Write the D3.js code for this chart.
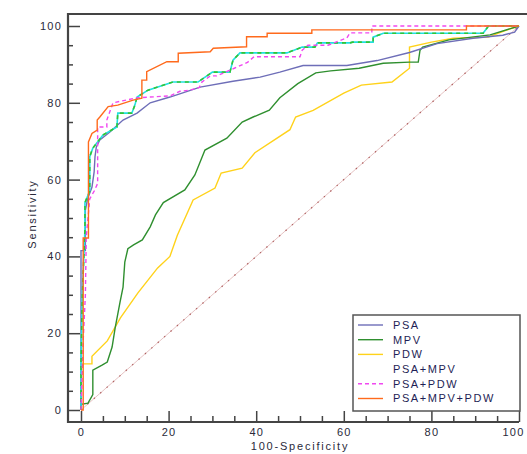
<!DOCTYPE html>
<html>
<head>
<meta charset="utf-8">
<script src="https://cdn.jsdelivr.net/npm/d3@7"></script>
<style>
  body { margin: 0; background: #fff; }
  svg { display: block; font-family: Arial, "Liberation Sans", sans-serif; }
  .tick text { font-size: 11px; letter-spacing: 1.2px; fill: #2a2a3a; }
  .tick line { stroke: #444; stroke-width: 1.5px; }
  .axis-title { font-size: 11px; letter-spacing: 1.8px; fill: #2a2a3a; }
  .legend text { font-size: 11px; letter-spacing: 1.6px; fill: #1e1e55; }
</style>
</head>
<body>
<div id="chart"></div>
<script>
// ROC curves, values as [100-specificity, sensitivity]
var psa = [[0,0],[0,41.5],[1,41.5],[1,52],[1.5,55],[2.5,58],[3,62],[3.2,66],[3.5,68.5],[4.3,70.3],[6.6,72.4],[9.6,75.5],[12.8,77.3],[15.8,80],[20.3,81.5],[27.2,84.1],[34.7,85.6],[40.9,86.7],[45.4,88],[50.7,89.7],[60.7,89.7],[67.6,91],[75,93.1],[81.3,95.4],[89.5,96.8],[96.3,97.6],[99,98.4],[100,100]];
var mpv = [[0,0],[0,1.5],[1.6,1.8],[2.7,4],[2.7,10.4],[4.8,11.7],[6,12.5],[7.1,16.4],[7.8,21.4],[8.9,28],[9.6,32],[10,38.5],[10.7,42],[12,43],[14,44.3],[15.8,47.7],[17,50.8],[18.8,54],[23.7,57.3],[26,61.2],[28.3,67.7],[33.3,70.8],[36.8,75],[39.3,76.3],[43,78.1],[45.4,81.3],[49.5,85],[53.6,87.8],[57,88.3],[63.5,89],[69,90.3],[75,90.6],[77,90.6],[77.4,93.7],[78,94.5],[84,96.4],[93.4,97.7],[100,100]];
var pdw = [[0,0],[0,12],[2.5,12],[2.5,14],[6,18],[9,24],[13,30.5],[17.5,37],[20.3,40],[22,45.5],[25.6,54.7],[30.6,57.8],[32,61.7],[36.8,63],[39.7,67],[47.7,73],[49,76.3],[53,78],[60,82.5],[64,84.6],[71,85.4],[75,89],[75,94.5],[80,95.8],[85,96.8],[93,97.1],[97.3,99],[100,100]];
var psaMpv = [[0,0],[0,12],[0.3,30],[0.9,47],[0.9,54],[2,57],[2,66],[2.7,68.2],[5,71.6],[8.2,73.7],[8.4,77.3],[11.6,77.3],[12.3,79.4],[12.8,81.5],[15.3,83.3],[21,85.4],[26.7,85.4],[30,88],[34,88],[34.7,91.1],[36.3,93],[47,93],[50.5,94.5],[53.4,94.5],[54,95.6],[61.4,95.6],[62,95.8],[66.7,95.8],[66.7,97.1],[69,98.1],[91.8,98.1],[92.7,99.5],[93,100],[100,100]];
var psaPdw = [[0,0],[0.5,18],[1,30],[1.2,45],[2,55],[3,57],[3.8,59],[3.8,73.7],[5.9,73.7],[5.9,75.5],[7.3,80],[12.8,81.3],[20.3,81.8],[22.6,83],[24.9,83.3],[27,84],[27.6,85.4],[29.5,87],[31,87],[35,89],[38,90.5],[39.5,92],[50,92],[50.5,93.7],[51.8,95],[56.4,95],[60.7,96.9],[61.4,98.2],[66.4,98.2],[66.4,100],[100,100]];
var psaMpvPdw = [[0,0],[0.5,0],[0.5,44.8],[1.7,44.8],[1.7,69.8],[2.5,72],[3.7,72.9],[3.7,75.5],[4.3,76.3],[6.2,79],[8.4,79.4],[11.9,80.7],[13.9,81.2],[13.9,85.9],[15,85.9],[15,88.1],[19.6,90.7],[22.2,90.7],[22.2,92.9],[29.5,93.3],[30.2,94.2],[37.8,94.6],[37.8,97.2],[42.5,97.2],[42.5,98.1],[52.7,98.1],[52.7,99],[88,99],[88,100],[100,100]];
var diagonal = [[0,0],[100,100]];

var seriesNames = ["PSA", "MPV", "PDW", "PSA+MPV", "PSA+PDW", "PSA+MPV+PDW"];
var majorTicks = [0, 20, 40, 60, 80, 100];
var minorTicks = [5, 10, 15, 25, 30, 35, 45, 50, 55, 65, 70, 75, 85, 90, 95];

var width = 527, height = 454;

var svg = d3.select("#chart").append("svg")
    .attr("width", width)
    .attr("height", height);

var x = d3.scaleLinear().domain([0, 100]).range([81, 519]);
var y = d3.scaleLinear().domain([0, 100]).range([410, 26]);

var frameLeft = 68, frameTop = 14, frameBottom = 422;

// axes: ticks point inward, labels outside
var yAxis = d3.axisLeft(y).tickValues(majorTicks).tickSize(-12).tickPadding(6);
var yAxisMinor = d3.axisLeft(y).tickValues(minorTicks).tickSize(-5).tickFormat("");
var xAxis = d3.axisBottom(x).tickValues(majorTicks).tickSize(-11).tickPadding(6);
var xAxisMinor = d3.axisBottom(x).tickValues(minorTicks).tickSize(-6).tickFormat("");

var yG = svg.append("g").attr("transform", "translate(" + frameLeft + ",0)").call(yAxis);
svg.append("g").attr("transform", "translate(" + frameLeft + ",0)").call(yAxisMinor);
var xG = svg.append("g").attr("transform", "translate(0," + frameBottom + ")").call(xAxis);
svg.append("g").attr("transform", "translate(0," + frameBottom + ")").call(xAxisMinor);
svg.selectAll(".domain").remove();
yG.selectAll(".tick text").attr("text-anchor", "end");
// last label sits at the right edge of the window
xG.selectAll(".tick text").filter(function(d) { return d === 100; })
    .attr("dx", -6);

// frame
svg.append("path")
    .attr("d", "M" + width + "," + frameTop + "H" + frameLeft + "V" + frameBottom + "H" + x(100))
    .attr("fill", "none")
    .attr("stroke", "#444")
    .attr("stroke-width", 2.2);

svg.append("text")
    .attr("class", "axis-title")
    .attr("transform", "translate(36," + 214 + ") rotate(-90)")
    .attr("text-anchor", "middle")
    .text("Sensitivity");

svg.append("text")
    .attr("class", "axis-title")
    .attr("x", 300)
    .attr("y", 450)
    .attr("text-anchor", "middle")
    .text("100-Specificity");

var line = d3.line()
    .x(function(d) { return x(d[0]); })
    .y(function(d) { return y(d[1]); });

function drawCurve(data, color, dash, w) {
    svg.append("path")
        .datum(data)
        .attr("fill", "none")
        .attr("stroke", color)
        .attr("stroke-width", w || 1.4)
        .attr("stroke-dasharray", dash || null)
        .attr("d", line);
}

drawCurve(diagonal, "#e6c4c4", null, 1);
drawCurve(diagonal, "#b06060", "1.5,7", 1.2);
drawCurve(pdw, "#ffd21a");
drawCurve(mpv, "#2f8f2f");
drawCurve(psa, "#6e6eb8");
drawCurve(psaMpv, "#22e0e0", null, 1.6);
drawCurve(psaMpv, "#33c433", "4,4", 1.6);
drawCurve(psaPdw, "#f048f0", "4,3", 1.4);
drawCurve(psaMpvPdw, "#ff6a1c");

// legend
var legendColors = ["#6e6eb8", "#2f8f2f", "#ffd21a", null, "#f048f0", "#ff6a1c"];
var legendDash = [null, null, null, null, "4,3", null];

var legend = svg.append("g").attr("class", "legend");
legend.append("rect")
    .attr("x", 353).attr("y", 315)
    .attr("width", 167).attr("height", 96)
    .attr("fill", "#fff")
    .attr("stroke", "#555")
    .attr("stroke-width", 1.5);

var items = legend.selectAll(".item")
    .data(seriesNames)
    .enter().append("g")
    .attr("class", "item")
    .attr("transform", function(d, i) { return "translate(0," + (325 + i * 14.7) + ")"; });

items.filter(function(d, i) { return legendColors[i]; })
    .append("line")
    .attr("x1", 358).attr("x2", 383)
    .attr("y1", 0).attr("y2", 0)
    .attr("stroke", function(d) { return legendColors[seriesNames.indexOf(d)]; })
    .attr("stroke-dasharray", function(d) { return legendDash[seriesNames.indexOf(d)]; })
    .attr("stroke-width", 1.4);

items.append("text")
    .attr("x", 393)
    .attr("dy", "0.35em")
    .text(function(d) { return d; });
</script>
</body>
</html>
